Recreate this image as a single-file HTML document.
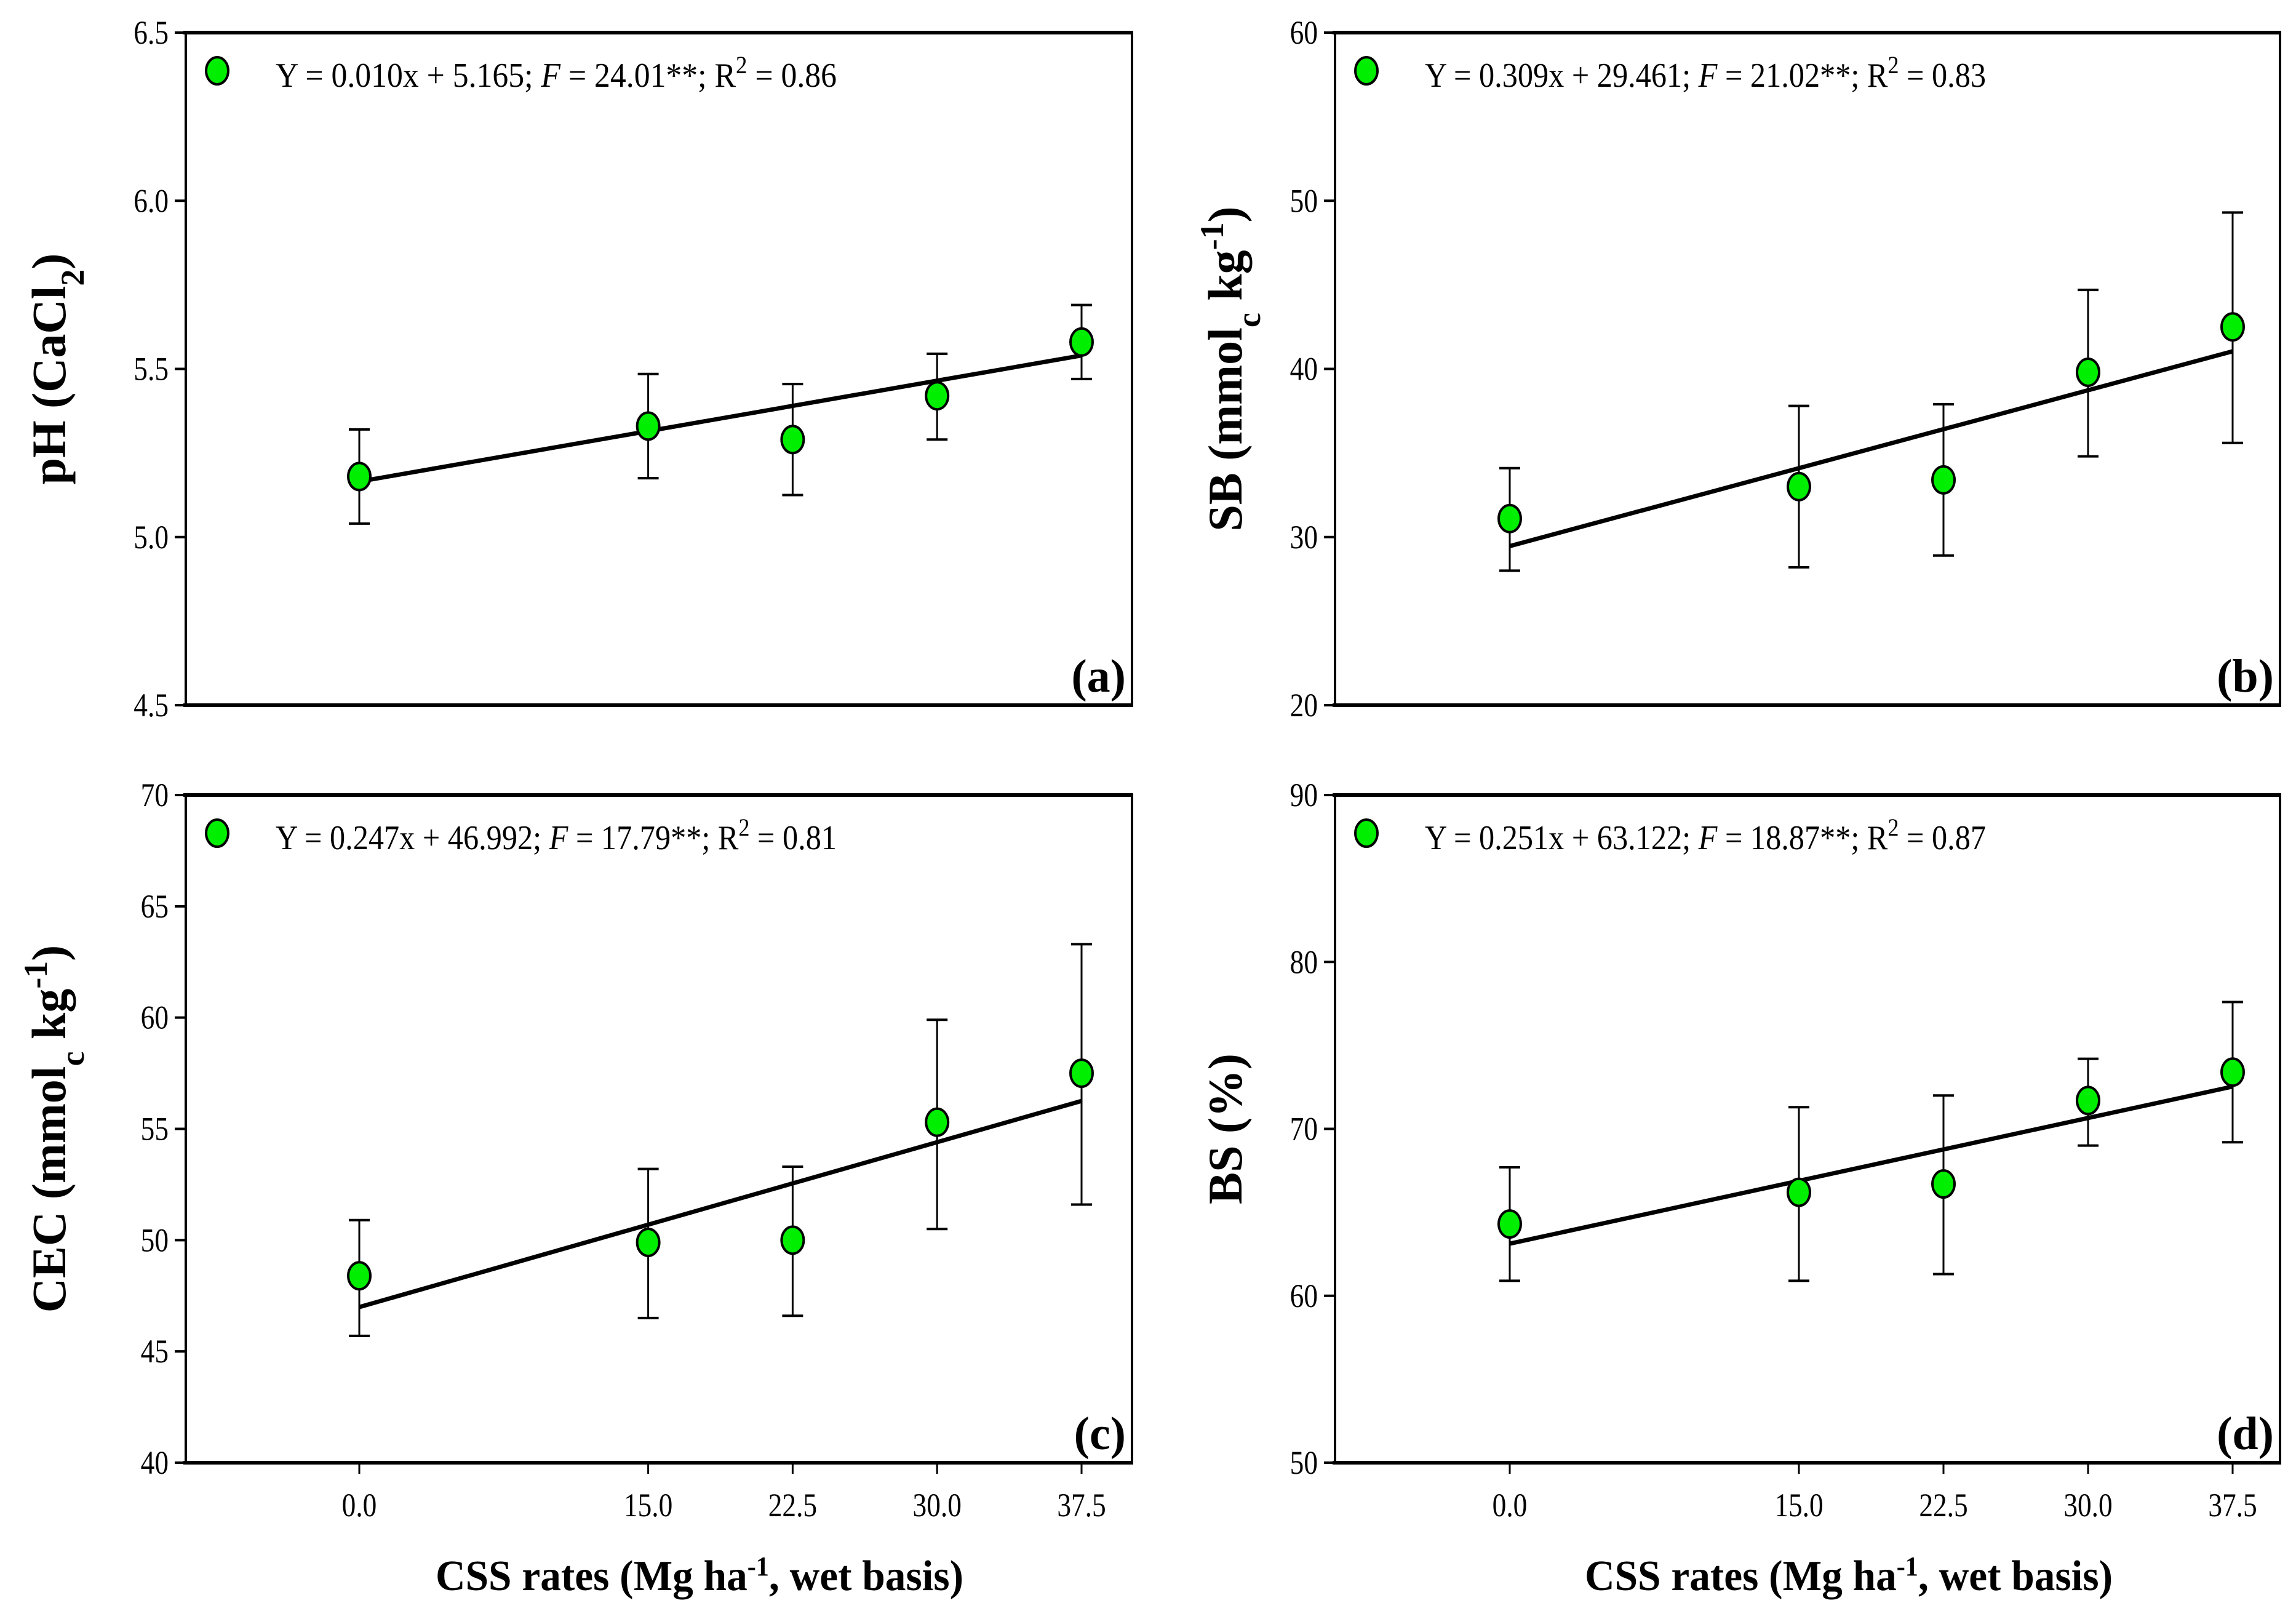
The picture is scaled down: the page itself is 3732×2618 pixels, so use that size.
<!DOCTYPE html>
<html><head><meta charset="utf-8"><style>
html,body{margin:0;padding:0;background:#fff;}
svg{display:block;}
text{font-family:"Liberation Serif",serif;fill:#000;}
</style></head><body>
<svg id="fig" width="3732" height="2618" viewBox="0 0 3732 2618" xmlns="http://www.w3.org/2000/svg"></svg>
<script>
const xCats = [0, 15, 22.5, 30, 37.5];
const xTickLabels = ["0.0","15.0","22.5","30.0","37.5"];
const meanA = [5.18, 5.33, 5.29, 5.42, 5.58];
const upA = [5.32, 5.485, 5.455, 5.545, 5.69];
const loA = [5.04, 5.175, 5.125, 5.29, 5.47];
const meanB = [31.1, 33.0, 33.4, 39.8, 42.5];
const upB = [34.1, 37.8, 37.9, 44.7, 49.3];
const loB = [28.0, 28.2, 28.9, 34.8, 35.6];
const meanC = [48.4, 49.9, 50.0, 55.3, 57.5];
const upC = [50.9, 53.2, 53.3, 59.9, 63.3];
const loC = [45.7, 46.5, 46.6, 50.5, 51.6];
const meanD = [64.3, 66.2, 66.7, 71.7, 73.4];
const upD = [67.7, 71.3, 72.0, 74.2, 77.6];
const loD = [60.9, 60.9, 61.3, 69.0, 69.2];
const ticksA = [4.5, 5.0, 5.5, 6.0, 6.5];
const ticksB = [20, 30, 40, 50, 60];
const ticksC = [40, 45, 50, 55, 60, 65, 70];
const ticksD = [50, 60, 70, 80, 90];
const slopes = [0.010, 0.309, 0.247, 0.251];
const intercepts = [5.165, 29.461, 46.992, 63.122];

const NS = "http://www.w3.org/2000/svg";
const svg = document.getElementById('fig');
function mk(tag, attrs, parent){
  const e = document.createElementNS(NS, tag);
  for (const k in attrs) e.setAttribute(k, attrs[k]);
  (parent||svg).appendChild(e);
  return e;
}

const panels = [
  {id:'a', L:302, R:1840, T:53, B:1146, x0:584, x375:1758, ticks:ticksA, dec:1, mean:meanA, up:upA, lo:loA, label:'(a)',
   yTitle:'pH (CaCl<tspan baseline-shift="sub" font-size="54">2</tspan>)', ytx:80, eq:'Y = 0.010x +  5.165; <tspan font-style="italic">F</tspan> = 24.01**; R<tspan baseline-shift="super" font-size="40">2</tspan> = 0.86', xaxis:false},
  {id:'b', L:2170, R:3706, T:53, B:1146, x0:2454, x375:3629, ticks:ticksB, dec:0, mean:meanB, up:upB, lo:loB, label:'(b)',
   yTitle:'SB (mmol<tspan baseline-shift="sub" font-size="54">c</tspan> kg<tspan baseline-shift="super" font-size="54">-1</tspan>)', ytx:1992, eq:'Y = 0.309x + 29.461; <tspan font-style="italic">F</tspan> = 21.02**; R<tspan baseline-shift="super" font-size="40">2</tspan> = 0.83', xaxis:false},
  {id:'c', L:302, R:1840, T:1292, B:2377, x0:584, x375:1758, ticks:ticksC, dec:0, mean:meanC, up:upC, lo:loC, label:'(c)',
   yTitle:'CEC (mmol<tspan baseline-shift="sub" font-size="54">c</tspan> kg<tspan baseline-shift="super" font-size="54">-1</tspan>)', ytx:80, eq:'Y = 0.247x +  46.992; <tspan font-style="italic">F</tspan> = 17.79**; R<tspan baseline-shift="super" font-size="40">2</tspan> = 0.81', xaxis:true},
  {id:'d', L:2170, R:3706, T:1292, B:2377, x0:2454, x375:3629, ticks:ticksD, dec:0, mean:meanD, up:upD, lo:loD, label:'(d)',
   yTitle:'BS (%)', ytx:1992, eq:'Y = 0.251x + 63.122; <tspan font-style="italic">F</tspan> = 18.87**; R<tspan baseline-shift="super" font-size="40">2</tspan> = 0.87', xaxis:true},
];

panels.forEach((p, pi) => {
  const g = mk('g', {});
  
  
  const ymin = p.ticks[0], ymax = p.ticks[p.ticks.length-1];
  const sy = v => p.B - (v - ymin) / (ymax - ymin) * (p.B - p.T);
  const sx = v => p.x0 + v / 37.5 * (p.x375 - p.x0);

  const fr = mk('rect', {x:p.L, y:p.T, width:p.R-p.L, height:p.B-p.T, fill:'none', stroke:'#000', 'stroke-width':4}, g);
  
  
  mk('line', {x1:p.L-4, y1:p.T, x2:p.R+2, y2:p.T, stroke:'#000','stroke-width':6}, g);
  mk('line', {x1:p.L-4, y1:p.B, x2:p.R+2, y2:p.B, stroke:'#000','stroke-width':6}, g);

  p.ticks.forEach(t => {
    const y = sy(t);
    mk('line', {x1:p.L-18, y1:y, x2:p.L, y2:y, stroke:'#000','stroke-width':4}, g);
    const tx = mk('text', {'font-size':54, 'text-anchor':'end', transform:`translate(${p.L-28},${y+18}) scale(0.84,1)`}, g);
    tx.textContent = t.toFixed(p.dec);
    
    
  });

  if (p.xaxis) {
    xCats.forEach((c, i) => {
      const x = sx(c);
      mk('line', {x1:x, y1:p.B, x2:x, y2:p.B+18, stroke:'#000','stroke-width':3}, g);
      const tx = mk('text', {'font-size':54, 'text-anchor':'middle', transform:`translate(${x},2464) scale(0.84,1)`}, g);
      tx.textContent = xTickLabels[i];
      
      
    });
    const xt = mk('text', {x:p.L + 406, y:2584, 'font-size':70, 'font-weight':'bold', textLength:858, lengthAdjust:'spacingAndGlyphs'}, g);
    xt.innerHTML = 'CSS rates (Mg ha<tspan baseline-shift="super" font-size="44">-1</tspan>, wet basis)';
    
    
  }

  const cy = (p.T + p.B) / 2;
  const yt = mk('text', {x:p.ytx, y:cy, 'font-size':78, 'font-weight':'bold', 'text-anchor':'middle', transform:`rotate(-90 ${p.ytx} ${cy})`, dy:26}, g);
  yt.innerHTML = p.yTitle;
  
  

  const rl = mk('line', {x1:sx(0), y1:sy(intercepts[pi]), x2:sx(37.5), y2:sy(intercepts[pi] + slopes[pi]*37.5), stroke:'#000', 'stroke-width':7}, g);
  
  

  xCats.forEach((c, i) => {
    const x = sx(c);
    const eb = mk('g', {}, g);
    
    
    mk('line', {x1:x, y1:sy(p.up[i]), x2:x, y2:sy(p.lo[i]), stroke:'#000','stroke-width':3}, eb);
    mk('line', {x1:x-17, y1:sy(p.up[i]), x2:x+17, y2:sy(p.up[i]), stroke:'#000','stroke-width':4}, eb);
    mk('line', {x1:x-17, y1:sy(p.lo[i]), x2:x+17, y2:sy(p.lo[i]), stroke:'#000','stroke-width':4}, eb);
  });
  xCats.forEach((c, i) => {
    const pt = mk('ellipse', {cx:sx(c), cy:sy(p.mean[i]), rx:18, ry:22, fill:'#00ee00', stroke:'#000', 'stroke-width':4}, g);
    
    
  });

  const lm = mk('ellipse', {cx:p.L+51, cy:p.T+62, rx:18, ry:22, fill:'#00ee00', stroke:'#000', 'stroke-width':4}, g);
  
  
  const eq = mk('text', {x:p.L+146, y:p.T+88, 'font-size':56, textLength:912, lengthAdjust:'spacingAndGlyphs'}, g);
  eq.innerHTML = p.eq;
  
  

  const pl = mk('text', {x:p.R-10, y:p.B-22, 'font-size':76, 'font-weight':'bold', 'text-anchor':'end'}, g);
  pl.textContent = p.label;
  
  
});
</script>
</body></html>
